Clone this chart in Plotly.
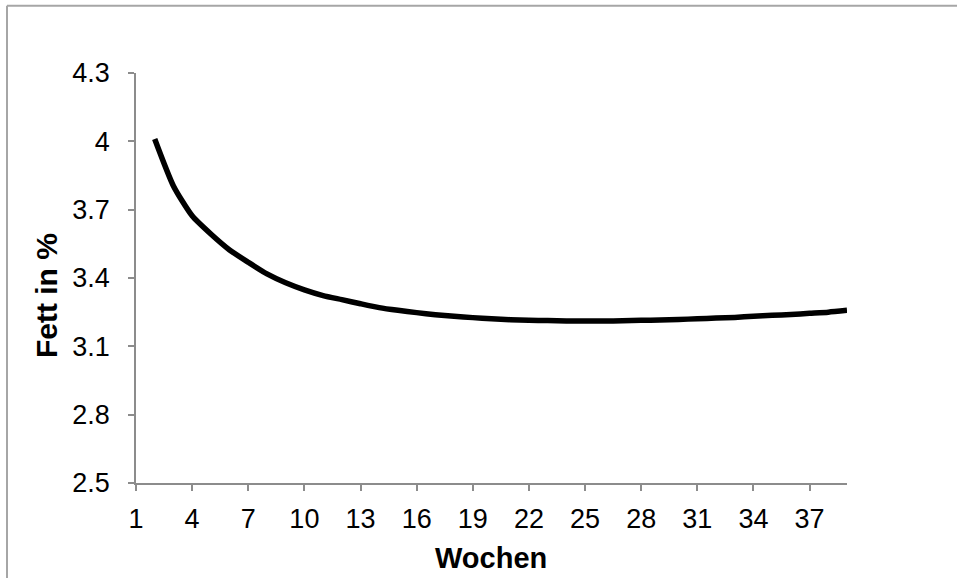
import plotly.graph_objects as go

weeks = list(range(2, 40))
fat = [4.01, 3.804, 3.673, 3.593, 3.523, 3.469, 3.418, 3.379, 3.348, 3.323,
       3.305, 3.287, 3.270, 3.258, 3.248, 3.239, 3.232, 3.226, 3.221, 3.217,
       3.214, 3.213, 3.211, 3.211, 3.211, 3.212, 3.214, 3.216, 3.218, 3.221,
       3.224, 3.227, 3.232, 3.236, 3.240, 3.245, 3.250, 3.258]
x_ticks = list(range(1, 40, 3))
y_ticks = [2.5, 2.8, 3.1, 3.4, 3.7, 4.0, 4.3]
y_tick_text = ["2.5", "2.8", "3.1", "3.4", "3.7", "4", "4.3"]

W, H = 957, 578
ml, mr, mt, mb = 136, 110, 72.5, 94.7
pw = W - ml - mr
ph = H - mt - mb

def px_to_paper_x(px):
    return (px - ml) / pw

def py_to_paper_y(py):
    return (H - mb - py) / ph

axis_grey = "#8c8c8c"
font_family = "Liberation Sans, Arial, sans-serif"

fig = go.Figure()
fig.add_trace(go.Scatter(
    x=weeks, y=fat, mode="lines",
    line=dict(color="black", width=5.5, shape="spline", smoothing=0.6),
    showlegend=False, hoverinfo="x+y",
))

fig.update_layout(
    width=W, height=H,
    margin=dict(l=ml, r=mr, t=mt, b=mb, pad=0),
    paper_bgcolor="white", plot_bgcolor="white",
    font=dict(family=font_family, size=27, color="black"),
    xaxis=dict(
        range=[1, 39], tickvals=x_ticks, ticktext=[str(v) for v in x_ticks],
        showgrid=False, zeroline=False, showline=True, linecolor=axis_grey, linewidth=1.5,
        ticks="outside", ticklen=6, tickwidth=1.5, tickcolor=axis_grey,
        tickfont=dict(size=27, color="black"), ticklabelstandoff=5,
    ),
    yaxis=dict(
        range=[2.5, 4.3], tickvals=y_ticks, ticktext=y_tick_text,
        showgrid=False, zeroline=False, showline=True, linecolor=axis_grey, linewidth=1.5,
        ticks="outside", ticklen=6, tickwidth=1.5, tickcolor=axis_grey,
        tickfont=dict(size=27, color="black"), ticklabelstandoff=13,
    ),
    annotations=[
        dict(text="<b>Wochen</b>", showarrow=False,
             xref="paper", yref="paper",
             x=px_to_paper_x(491), y=py_to_paper_y(558),
             xanchor="center", yanchor="middle",
             font=dict(size=29, color="black", family=font_family)),
        dict(text="<b>Fett in %</b>", textangle=-90, showarrow=False,
             xref="paper", yref="paper",
             x=px_to_paper_x(46), y=py_to_paper_y(296),
             xanchor="center", yanchor="middle",
             font=dict(size=30, color="black", family=font_family)),
    ],
    shapes=[
        dict(type="line", xref="paper", yref="paper",
             x0=px_to_paper_x(7), x1=px_to_paper_x(W + 10),
             y0=py_to_paper_y(5), y1=py_to_paper_y(5),
             line=dict(color="#a6a6a6", width=2)),
        dict(type="line", xref="paper", yref="paper",
             x0=px_to_paper_x(7), x1=px_to_paper_x(7),
             y0=py_to_paper_y(5), y1=py_to_paper_y(H + 10),
             line=dict(color="#a6a6a6", width=2)),
    ],
)

fig.write_html("out.html")
